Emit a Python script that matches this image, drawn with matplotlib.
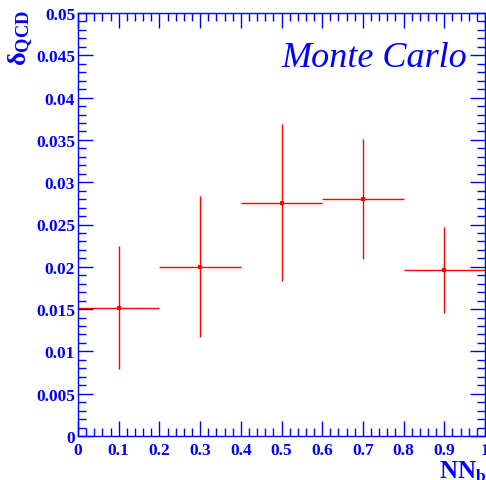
import numpy as np
import matplotlib
matplotlib.use("Agg")
import matplotlib.pyplot as plt
from matplotlib.ticker import MultipleLocator

# bin centres and half widths
nn_b = [0.1, 0.3, 0.5, 0.7, 0.9]
bin_half = [0.1, 0.1, 0.1, 0.1, 0.1]
delta_qcd = [0.0151, 0.0200, 0.0275, 0.0280, 0.0196]
err_up = [0.0074, 0.0084, 0.0094, 0.0071, 0.0051]
err_dn = [0.0072, 0.0083, 0.0092, 0.0071, 0.0051]

x_ticks = ["0", "0.1", "0.2", "0.3", "0.4", "0.5", "0.6", "0.7", "0.8", "0.9", "1"]
y_ticks = ["0", "0.005", "0.01", "0.015", "0.02", "0.025", "0.03",
           "0.035", "0.04", "0.045", "0.05"]

blue = "#0000ff"
red = "#ff0000"

plt.rcParams["font.family"] = ["Liberation Serif", "DejaVu Serif"]
plt.rcParams["mathtext.fontset"] = "custom"
plt.rcParams["mathtext.rm"] = "Liberation Serif:bold"
plt.rcParams["mathtext.bf"] = "Liberation Serif:bold"
plt.rcParams["mathtext.it"] = "Liberation Serif:italic"

fig = plt.figure(figsize=(4.86, 4.81), dpi=100)
ax = fig.add_axes([78/486, 1 - 437/481, 407/486, 423/481])

ax.errorbar(nn_b, delta_qcd, xerr=bin_half, yerr=[err_dn, err_up],
            fmt="s", color=red, ms=2.5, elinewidth=1.0, capsize=0,
            markeredgewidth=0)

ax.set_xlim(0, 1)
ax.set_ylim(0, 0.05)
ax.set_xticks(np.linspace(0, 1, len(x_ticks)))
ax.set_xticklabels(x_ticks)
ax.set_yticks(np.linspace(0, 0.05, len(y_ticks)))
ax.set_yticklabels(y_ticks)
ax.xaxis.set_minor_locator(MultipleLocator(0.02))
ax.yaxis.set_minor_locator(MultipleLocator(0.001))

for s in ax.spines.values():
    s.set_color(blue)
    s.set_linewidth(1.0)
ax.tick_params(which="both", direction="in", top=True, right=True, color=blue,
               labelcolor=blue, labelsize=12.5, width=1.0)
ax.tick_params(which="major", length=11)
ax.tick_params(which="minor", length=5.5)
ax.tick_params(axis="x", pad=4)
ax.tick_params(axis="y", pad=2)
for lab in ax.get_xticklabels() + ax.get_yticklabels():
    lab.set_fontweight("bold")

ax.text(0.955, 0.895, "Monte Carlo", transform=ax.transAxes, ha="right",
        va="center", color=blue, fontsize=26, fontstyle="italic")

fig.text(439/486, 1 - 478/481, r"$\mathbf{NN_b}$", color=blue, fontsize=18,
         ha="left", va="baseline")
fig.text(21/486, 1 - 38/481, r"$\mathbf{\delta_{QCD}}$", color=blue,
         fontsize=19, ha="center", va="center", rotation=90)

fig.savefig("out.png", dpi=100)
